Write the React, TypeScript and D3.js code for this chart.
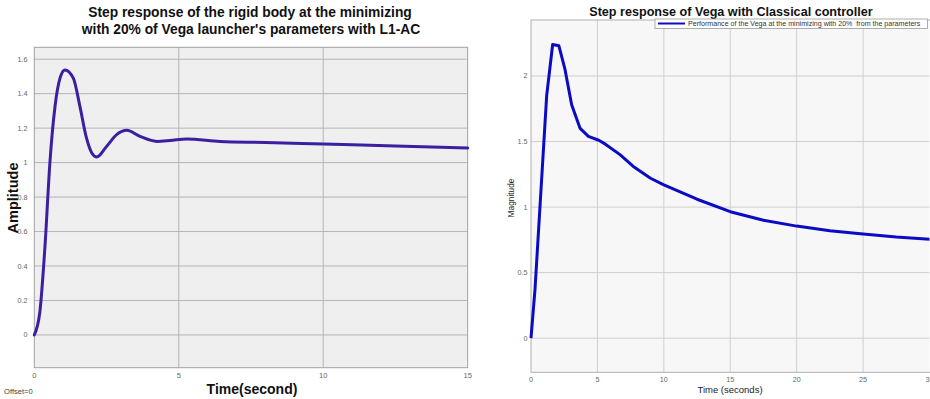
import React from "react";
import * as d3 from "d3";

// Left chart: step response with L1-AC
const leftTime = [0, 0.19, 0.37, 0.54, 0.72, 0.89, 1.06, 1.35, 1.58, 1.81, 1.99, 2.16, 2.5, 2.85, 3.2, 3.66, 4.24, 4.7, 5.27, 6.43, 8, 10, 12.5, 15];
const leftAmp = [0, 0.13, 0.515, 1.0, 1.33, 1.49, 1.538, 1.49, 1.325, 1.14, 1.056, 1.033, 1.094, 1.162, 1.187, 1.152, 1.123, 1.128, 1.137, 1.123, 1.117, 1.108, 1.097, 1.085];
const leftXTicks = [0, 5, 10, 15];
const leftYTicks = [0, 0.2, 0.4, 0.6, 0.8, 1, 1.2, 1.4, 1.6];

// Right chart: classical controller
const rightTime = [0, 0.3, 1.18, 1.63, 2.1, 2.56, 3.06, 3.7, 4.32, 5.1, 5.6, 6.7, 7.7, 9, 10, 12.5, 15, 17.5, 20, 22.5, 25, 27.5, 30];
const rightMag = [0, 0.37, 1.85, 2.24, 2.23, 2.05, 1.78, 1.6, 1.54, 1.51, 1.48, 1.4, 1.31, 1.22, 1.17, 1.06, 0.965, 0.9, 0.855, 0.82, 0.795, 0.772, 0.755];
const rightXTicks = [0, 5, 10, 15, 20, 25, 30];
const rightYTicks = [0, 0.5, 1, 1.5, 2];

const FONT = "'Liberation Sans', Arial, sans-serif";

export default function App() {
  // left geometry
  const lx = d3.scaleLinear().domain([0, 15]).range([34.3, 467.7]);
  const ly = d3.scaleLinear().domain([-0.19, 1.669]).range([367.7, 47.3]);
  const leftLine = d3
    .line<number>()
    .x((_, i) => lx(leftTime[i]))
    .y((d) => ly(d))
    .curve(d3.curveMonotoneX)(leftAmp);

  // right geometry
  const rx = d3.scaleLinear().domain([0, 30]).range([531, 929.5]);
  const ry = d3.scaleLinear().domain([-0.26, 2.427]).range([372.3, 20]);
  const rightLine = d3
    .line<number>()
    .x((_, i) => rx(rightTime[i]))
    .y((d) => ry(d))(rightMag);

  const [lx0, lx1] = lx.range();
  const [ly0, ly1] = ly.range();
  const [rx0, rx1] = rx.range();
  const [ry0, ry1] = ry.range();

  return (
    <svg
      width={930}
      height={399}
      style={{ position: "absolute", left: 0, top: 0, background: "#fff" }}
      fontFamily={FONT}
    >
      {/* LEFT CHART */}
      <text x={250} y={16.5} textAnchor="middle" fontSize={13.8} fontWeight="bold" fill="#111">
        Step response of the rigid body at the minimizing
      </text>
      <text x={251} y={34} textAnchor="middle" fontSize={13.8} fontWeight="bold" fill="#111">
        with 20% of Vega launcher's parameters with L1-AC
      </text>
      <rect x={lx0} y={ly1} width={lx1 - lx0} height={ly0 - ly1} fill="#efefef" />
      {leftYTicks.map((t) => (
        <line key={"lyg" + t} x1={lx0} x2={lx1} y1={ly(t)} y2={ly(t)} stroke="#b4b4b4" strokeWidth={1} />
      ))}
      {leftXTicks.slice(1, -1).map((t) => (
        <line key={"lxg" + t} x1={lx(t)} x2={lx(t)} y1={ly1} y2={ly0} stroke="#b4b4b4" strokeWidth={1} />
      ))}
      <rect x={lx0} y={ly1} width={lx1 - lx0} height={ly0 - ly1} fill="none" stroke="#a0a0a0" strokeWidth={1} />
      <path d={leftLine ?? ""} fill="none" stroke="#3b1fa0" strokeWidth={3} strokeLinejoin="round" strokeLinecap="round" />
      {leftYTicks.map((t) => (
        <text key={"lyt" + t} x={27.5} y={ly(t) + 2.5} textAnchor="end" fontSize={7.2} fill="#666">
          {d3.format("~g")(t)}
        </text>
      ))}
      {leftXTicks.map((t) => (
        <text key={"lxt" + t} x={lx(t)} y={378} textAnchor="middle" fontSize={7.5} fill="#666">
          {t}
        </text>
      ))}
      <text x={252} y={394} textAnchor="middle" fontSize={14} fontWeight="bold" fill="#111">
        Time(second)
      </text>
      <text
        transform={`translate(18,198) rotate(-90)`}
        textAnchor="middle"
        fontSize={14.5}
        fontWeight="bold"
        fill="#111"
      >
        Amplitude
      </text>
      <text x={4} y={394} fontSize={7.6} fill="#444">
        Offset=0
      </text>

      {/* RIGHT CHART */}
      <text x={731} y={15.5} textAnchor="middle" fontSize={12.6} fontWeight="bold" fill="#111">
        Step response of Vega with Classical controller
      </text>
      <rect x={rx0} y={ry1} width={rx1 - rx0} height={ry0 - ry1} fill="#f7f7f7" />
      {rightYTicks.map((t) => (
        <line key={"ryg" + t} x1={rx0} x2={rx1} y1={ry(t)} y2={ry(t)} stroke="#cfcfcf" strokeWidth={1} />
      ))}
      {rightXTicks.slice(1, -1).map((t) => (
        <line key={"rxg" + t} x1={rx(t)} x2={rx(t)} y1={ry1} y2={ry0} stroke="#cfcfcf" strokeWidth={1} />
      ))}
      <rect x={rx0} y={ry1} width={rx1 - rx0 + 5} height={ry0 - ry1} fill="none" stroke="#b0b0b0" strokeWidth={1} />
      <path d={rightLine ?? ""} fill="none" stroke="#0b0bc4" strokeWidth={3} strokeLinejoin="round" />
      {rightYTicks.map((t) => (
        <text key={"ryt" + t} x={527.5} y={ry(t) + 2.5} textAnchor="end" fontSize={7.2} fill="#666">
          {d3.format("~g")(t)}
        </text>
      ))}
      {rightXTicks.map((t) => (
        <text key={"rxt" + t} x={rx(t)} y={382} textAnchor="middle" fontSize={7.2} fill="#666">
          {t}
        </text>
      ))}
      <text x={730} y={393} textAnchor="middle" fontSize={9.5} fill="#222">
        Time (seconds)
      </text>
      <text transform={`translate(514,198) rotate(-90)`} textAnchor="middle" fontSize={8.3} fill="#222">
        Magnitude
      </text>
      {/* legend */}
      <rect x={655} y={19} width={272.5} height={9.5} fill="#fff" stroke="#999" strokeWidth={0.8} />
      <line x1={658} x2={685} y1={23.5} y2={23.5} stroke="#0b0bc4" strokeWidth={2} />
      <text x={688} y={26.3} fontSize={7.1} fill="#333" style={{ whiteSpace: "pre" }}>
        {"Performance of the Vega at the minimizing with 20%  from the parameters"}
      </text>
    </svg>
  );
}
